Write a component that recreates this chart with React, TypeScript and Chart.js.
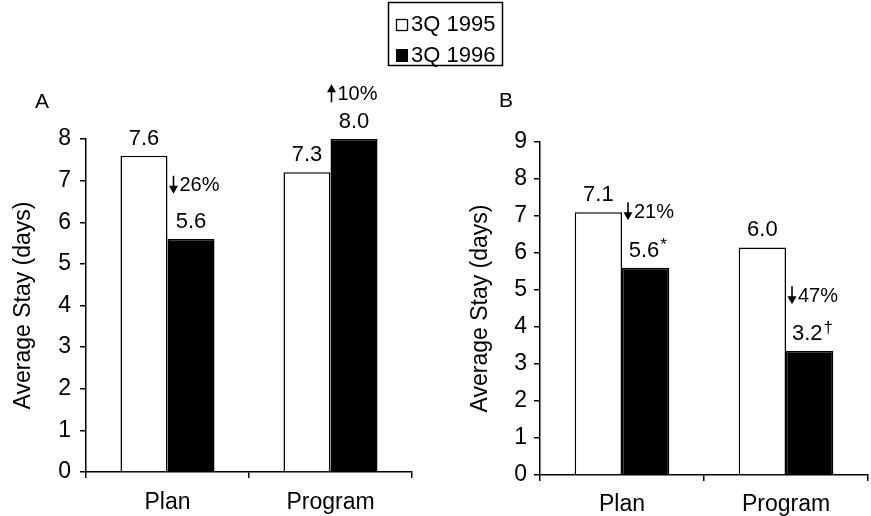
import React, { useEffect, useRef } from 'react';
import { Chart, registerables } from 'chart.js';

Chart.register(...registerables);

const FONT = "'Liberation Sans', Arial, Helvetica, sans-serif";

// ---------- data ----------
const categories = ['Plan', 'Program'];
const seriesNames = ['3Q 1995', '3Q 1996'];
const yTitle = 'Average Stay (days)';

// Panel A
const panelA1995 = [7.6, 7.2];
const panelA1996 = [5.6, 8.0];
const panelALabels1995 = ['7.6', '7.3'];
const panelALabels1996 = ['5.6', '8.0'];
const panelASuffix1996 = ['', ''];
const panelAChangeText = ['26%', '10%'];
const panelAChangeDir = ['down', 'up'];
const panelAChangeAt = [6.9, 9.1];
const panelAMax = 8;

// Panel B
const panelB1995 = [7.1, 6.15];
const panelB1996 = [5.6, 3.35];
const panelBLabels1995 = ['7.1', '6.0'];
const panelBLabels1996 = ['5.6', '3.2'];
const panelBSuffix1996 = ['*', '\u2020'];
const panelBChangeText = ['21%', '47%'];
const panelBChangeDir = ['down', 'down'];
const panelBChangeAt = [7.13, 4.86];
const panelBMax = 9;

type PanelCfg = {
  letter: string;
  letterX: number;
  letterY: number;
  titleX: number;
  v1995: number[];
  v1996: number[];
  l1995: string[];
  l1996: string[];
  s1996: string[];
  changeText: string[];
  changeDir: string[];
  changeAt: number[];
  max: number;
  padding: { left: number; right: number; top: number; bottom: number };
  yWidth: number;
  xHeight: number;
  yTickPad: number;
  xTickPad: number;
  legend: boolean;
};

function drawArrow(ctx: CanvasRenderingContext2D, x: number, y: number, dir: string) {
  const half = 9;
  ctx.save();
  ctx.strokeStyle = '#000';
  ctx.fillStyle = '#000';
  ctx.lineWidth = 1.6;
  ctx.beginPath();
  if (dir === 'down') {
    ctx.moveTo(x, y - half);
    ctx.lineTo(x, y + half - 5);
    ctx.stroke();
    ctx.beginPath();
    ctx.moveTo(x - 4.5, y + half - 8);
    ctx.lineTo(x + 4.5, y + half - 8);
    ctx.lineTo(x, y + half);
    ctx.closePath();
    ctx.fill();
  } else {
    ctx.moveTo(x, y + half);
    ctx.lineTo(x, y - half + 5);
    ctx.stroke();
    ctx.beginPath();
    ctx.moveTo(x - 4.5, y - half + 8);
    ctx.lineTo(x + 4.5, y - half + 8);
    ctx.lineTo(x, y - half);
    ctx.closePath();
    ctx.fill();
  }
  ctx.restore();
}

function makePlugin(cfg: PanelCfg) {
  return {
    id: 'panelDecor',
    afterDraw(chart: any) {
      const ctx: CanvasRenderingContext2D = chart.ctx;
      const area = chart.chartArea;
      const yScale = chart.scales.y;
      ctx.save();
      ctx.fillStyle = '#000';

      // y axis title
      ctx.save();
      ctx.translate(cfg.titleX, (area.top + area.bottom) / 2);
      ctx.rotate(-Math.PI / 2);
      ctx.font = `23px ${FONT}`;
      ctx.textAlign = 'center';
      ctx.textBaseline = 'middle';
      ctx.fillText(yTitle, 0, 0);
      ctx.restore();

      // panel letter
      ctx.font = `21px ${FONT}`;
      ctx.textAlign = 'left';
      ctx.textBaseline = 'alphabetic';
      ctx.fillText(cfg.letter, cfg.letterX, cfg.letterY);

      // value labels
      const labelSets = [cfg.l1995, cfg.l1996];
      const suffixSets = [cfg.l1995.map(() => ''), cfg.s1996];
      labelSets.forEach((labels, ds) => {
        const meta = chart.getDatasetMeta(ds);
        labels.forEach((txt, i) => {
          const bar = meta.data[i];
          if (!bar) return;
          const suffix = suffixSets[ds][i];
          ctx.font = `22px ${FONT}`;
          const mainW = ctx.measureText(txt).width;
          ctx.font = `17px ${FONT}`;
          const sufW = suffix ? ctx.measureText(suffix).width : 0;
          const start = bar.x - mainW / 2 - sufW / 4;
          const base = bar.y - 11;
          ctx.font = `22px ${FONT}`;
          ctx.textAlign = 'left';
          ctx.textBaseline = 'alphabetic';
          ctx.fillText(txt, start, base);
          if (suffix) {
            ctx.font = `17px ${FONT}`;
            ctx.fillText(suffix, start + mainW + 1, base - 7);
          }
        });
      });

      // change annotations
      const m0 = chart.getDatasetMeta(0);
      cfg.changeText.forEach((txt, i) => {
        const bar = m0.data[i];
        if (!bar) return;
        const edge = bar.x + bar.width / 2;
        const ax = edge + (cfg.changeDir[i] === 'up' ? 1 : 6);
        const ay = yScale.getPixelForValue(cfg.changeAt[i]);
        drawArrow(ctx, ax, ay, cfg.changeDir[i]);
        ctx.font = `20px ${FONT}`;
        ctx.textAlign = 'left';
        ctx.textBaseline = 'middle';
        ctx.fillText(txt, ax + 6, ay + 1);
      });

      // legend
      if (cfg.legend) {
        ctx.strokeStyle = '#000';
        ctx.lineWidth = 1.5;
        ctx.strokeRect(388.5, 2.5, 114, 63);
        ctx.lineWidth = 1.3;
        ctx.fillStyle = '#fff';
        ctx.fillRect(396, 19, 12, 12);
        ctx.strokeRect(396.5, 19.5, 11, 11);
        ctx.fillStyle = '#000';
        ctx.fillRect(396, 49, 12, 13);
        ctx.font = `22px ${FONT}`;
        ctx.textAlign = 'left';
        ctx.textBaseline = 'alphabetic';
        ctx.fillText(seriesNames[0], 411, 31);
        ctx.fillText(seriesNames[1], 411, 62);
      }
      ctx.restore();
    },
  };
}

function buildChart(canvas: HTMLCanvasElement, cfg: PanelCfg) {
  return new Chart(canvas, {
    type: 'bar',
    data: {
      labels: categories,
      datasets: [
        {
          label: seriesNames[0],
          data: cfg.v1995,
          backgroundColor: '#ffffff',
          borderColor: '#000000',
          borderWidth: 1.5,
          categoryPercentage: 0.577,
          barPercentage: 1,
        },
        {
          label: seriesNames[1],
          data: cfg.v1996,
          backgroundColor: '#000000',
          borderColor: '#000000',
          borderWidth: 1.5,
          categoryPercentage: 0.577,
          barPercentage: 1,
        },
      ],
    },
    options: {
      responsive: false,
      animation: false,
      devicePixelRatio: 1,
      events: [],
      layout: { padding: cfg.padding },
      plugins: {
        legend: { display: false },
        tooltip: { enabled: false },
        title: { display: false },
      },
      scales: {
        x: {
          type: 'category',
          offset: true,
          grid: {
            offset: true,
            drawOnChartArea: false,
            drawTicks: true,
            tickLength: 6,
            color: '#000',
            lineWidth: 1.5,
          },
          border: { display: true, color: '#000', width: 1.5 },
          ticks: {
            color: '#000',
            font: { family: FONT, size: 23 },
            padding: cfg.xTickPad,
            maxRotation: 0,
            autoSkip: false,
          },
          afterFit: (s: any) => {
            s.height = cfg.xHeight;
          },
        },
        y: {
          min: 0,
          max: cfg.max,
          grid: {
            drawOnChartArea: false,
            drawTicks: true,
            tickLength: 6,
            color: '#000',
            lineWidth: 1.5,
          },
          border: { display: true, color: '#000', width: 1.5 },
          ticks: {
            stepSize: 1,
            color: '#000',
            font: { family: FONT, size: 23 },
            padding: cfg.yTickPad,
          },
          afterFit: (s: any) => {
            s.width = cfg.yWidth;
          },
        },
      },
    } as any,
    plugins: [makePlugin(cfg) as any],
  });
}

const panelA: PanelCfg = {
  letter: 'A',
  letterX: 35,
  letterY: 108,
  titleX: 24,
  v1995: panelA1995,
  v1996: panelA1996,
  l1995: panelALabels1995,
  l1996: panelALabels1996,
  s1996: panelASuffix1996,
  changeText: panelAChangeText,
  changeDir: panelAChangeDir,
  changeAt: panelAChangeAt,
  max: panelAMax,
  padding: { left: 0, right: 459, top: 139, bottom: 0 },
  yWidth: 86,
  xHeight: 44,
  yTickPad: 9,
  xTickPad: 11,
  legend: true,
};

const panelB: PanelCfg = {
  letter: 'B',
  letterX: 499,
  letterY: 107,
  titleX: 481,
  v1995: panelB1995,
  v1996: panelB1996,
  l1995: panelBLabels1995,
  l1996: panelBLabels1996,
  s1996: panelBSuffix1996,
  changeText: panelBChangeText,
  changeDir: panelBChangeDir,
  changeAt: panelBChangeAt,
  max: panelBMax,
  padding: { left: 454, right: 3, top: 142, bottom: 0 },
  yWidth: 86,
  xHeight: 41,
  yTickPad: 7,
  xTickPad: 10,
  legend: false,
};

export default function App() {
  const refA = useRef<HTMLCanvasElement | null>(null);
  const refB = useRef<HTMLCanvasElement | null>(null);

  useEffect(() => {
    if (!refA.current || !refB.current) return;
    const a = buildChart(refA.current, panelA);
    const b = buildChart(refB.current, panelB);
    return () => {
      a.destroy();
      b.destroy();
    };
  }, []);

  const canvasStyle: React.CSSProperties = {
    position: 'absolute',
    left: 0,
    top: 0,
    width: 871,
    height: 516,
  };

  return (
    <div
      style={{
        position: 'fixed',
        left: 0,
        top: 0,
        width: 871,
        height: 516,
        background: '#ffffff',
        overflow: 'hidden',
      }}
    >
      <canvas ref={refA} width={871} height={516} style={canvasStyle} />
      <canvas ref={refB} width={871} height={516} style={canvasStyle} />
    </div>
  );
}
